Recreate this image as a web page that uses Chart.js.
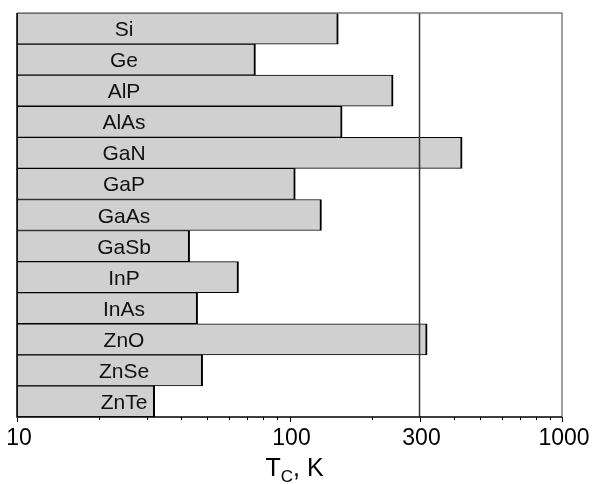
<!DOCTYPE html>
<html>
<head>
<meta charset="utf-8">
<script src="https://cdn.jsdelivr.net/npm/chart.js@4/dist/chart.umd.min.js"></script>
<style>
  html, body { margin: 0; padding: 0; background: #fff; }
  canvas { display: block; }
</style>
</head>
<body>
<canvas id="tcChart" width="595" height="484"></canvas>
<script>
// Curie temperatures, K
const materials = ['Si', 'Ge', 'AlP', 'AlAs', 'GaN', 'GaP', 'GaAs', 'GaSb', 'InP', 'InAs', 'ZnO', 'ZnSe', 'ZnTe'];
const tcValues = [151, 75, 240, 156, 430, 105, 131, 43, 65, 46, 320, 48, 32];

const tickValues = [10, 20, 30, 40, 50, 60, 70, 80, 90, 100, 200, 300, 400, 500, 600, 700, 800, 900, 1000];
const tickLabels = [10, 100, 300, 1000];
const refLine = 300;
const labelPos = 24.7;   // where the names sit along the axis
const axisTitle = { main: 'T', sub: 'C', rest: ', K' };

const FONT = 'Liberation Sans, Arial, Helvetica, sans-serif';

const decorPlugin = {
    id: 'decor',
    afterDatasetsDraw(chart) {
        const ctx = chart.ctx;
        const area = chart.chartArea;
        const xs = chart.scales.x;
        ctx.save();

        // reference line at 300 K
        const rx = xs.getPixelForValue(refLine);
        ctx.strokeStyle = '#333';
        ctx.lineWidth = 1.5;
        ctx.beginPath();
        ctx.moveTo(rx, area.top);
        ctx.lineTo(rx, area.bottom);
        ctx.stroke();

        // frame: top and right grey, left and bottom black
        ctx.strokeStyle = '#808080';
        ctx.lineWidth = 1.5;
        ctx.beginPath();
        ctx.moveTo(area.left, area.top);
        ctx.lineTo(area.right, area.top);
        ctx.lineTo(area.right, area.bottom);
        ctx.stroke();
        ctx.strokeStyle = '#000';
        ctx.beginPath();
        ctx.moveTo(area.left, area.top);
        ctx.lineTo(area.left, area.bottom);
        ctx.lineTo(area.right, area.bottom);
        ctx.stroke();

        // tick marks, long for labelled ones
        ctx.lineWidth = 1;
        tickValues.forEach(v => {
            const x = Math.round(xs.getPixelForValue(v)) + 0.5;
            const len = tickLabels.includes(v) ? 5 : 3;
            ctx.beginPath();
            ctx.moveTo(x, area.bottom);
            ctx.lineTo(x, area.bottom + len);
            ctx.stroke();
        });

        // material names inside the bars
        const meta = chart.getDatasetMeta(0);
        ctx.fillStyle = '#111';
        ctx.font = '21px ' + FONT;
        ctx.textAlign = 'center';
        ctx.textBaseline = 'alphabetic';
        const lx = xs.getPixelForValue(labelPos);
        meta.data.forEach((bar, i) => {
            ctx.fillText(materials[i], lx, bar.y + 7.5);
        });

        // axis title with subscript
        ctx.fillStyle = '#000';
        ctx.textAlign = 'left';
        const bigFont = '25px ' + FONT;
        const smallFont = '17px ' + FONT;
        ctx.font = bigFont;
        const wT = ctx.measureText(axisTitle.main).width;
        const wR = ctx.measureText(axisTitle.rest).width;
        ctx.font = smallFont;
        const wS = ctx.measureText(axisTitle.sub).width;
        const total = wT + wS + wR;
        let tx = (area.left + area.right) / 2 + 5 - total / 2;
        const baseY = 476;
        ctx.font = bigFont;
        ctx.fillText(axisTitle.main, tx, baseY);
        tx += wT;
        ctx.font = smallFont;
        ctx.fillText(axisTitle.sub, tx, baseY + 6);
        tx += wS;
        ctx.font = bigFont;
        ctx.fillText(axisTitle.rest, tx, baseY);

        ctx.restore();
    }
};

const chart = new Chart(document.getElementById('tcChart').getContext('2d'), {
    type: 'bar',
    data: {
        labels: materials,
        datasets: [{
            data: tcValues,
            backgroundColor: '#d0d0d0',
            borderColor: '#000',
            borderWidth: { top: 1, bottom: 1, left: 1, right: 2 },
            borderSkipped: false,
            barPercentage: 1,
            categoryPercentage: 1
        }]
    },
    options: {
        indexAxis: 'y',
        responsive: false,
        devicePixelRatio: 1,
        animation: false,
        layout: { padding: { left: 17, right: 33, top: 13, bottom: 29 } },
        plugins: {
            legend: { display: false },
            tooltip: { enabled: false }
        },
        scales: {
            x: {
                type: 'logarithmic',
                min: 10,
                max: 1000,
                afterBuildTicks: scale => { scale.ticks = tickValues.map(v => ({ value: v })); },
                afterFit: scale => {
                    scale.height = 38;
                    scale.paddingLeft = 0;
                    scale.paddingRight = 0;
                },
                ticks: {
                    autoSkip: false,
                    maxRotation: 0,
                    padding: 8,
                    labelOffset: 2,
                    color: '#000',
                    font: { family: FONT, size: 23 },
                    callback: v => tickLabels.includes(v) ? String(v) : ''
                },
                grid: { display: false, drawTicks: false },
                border: { display: false }
            },
            y: {
                type: 'category',
                display: false,
                offset: true
            }
        }
    },
    plugins: [decorPlugin]
});
</script>
</body>
</html>
